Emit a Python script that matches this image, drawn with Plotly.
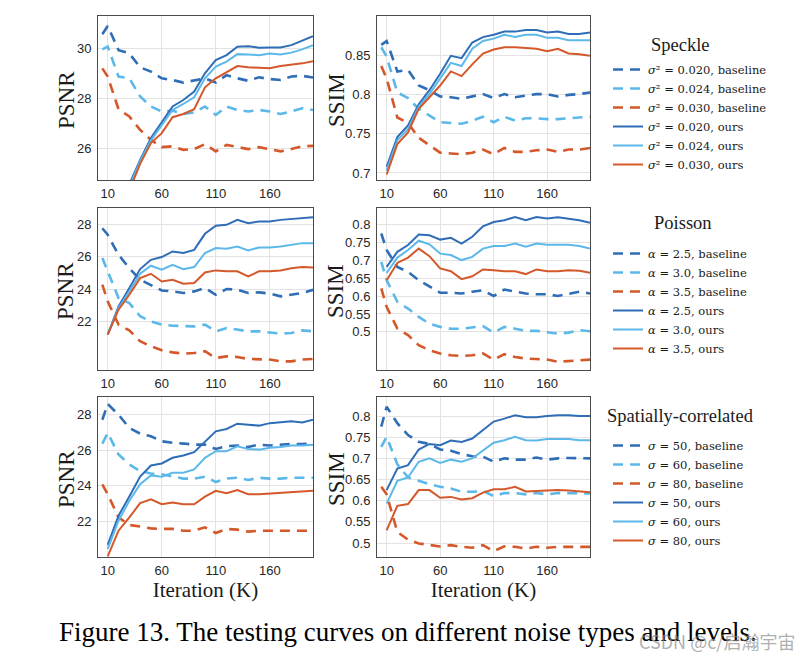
import plotly.graph_objects as go

# ---------------- data ----------------
x_base = [5, 10, 20, 30, 40, 50, 60, 70, 80, 90, 100, 110, 120, 130, 140, 150, 160, 170, 180, 190, 200]
x_ours = [10, 20, 30, 40, 50, 60, 70, 80, 90, 100, 110, 120, 130, 140, 150, 160, 170, 180, 190, 200]
x_tickvals = [10, 60, 110, 160]

# Speckle
speckle_psnr_base1 = [30.57, 30.9, 29.93, 29.8, 29.24, 29.07, 28.8, 28.73, 28.63, 28.7, 28.8, 28.63, 28.93, 28.8, 28.7, 28.84, 28.77, 28.73, 28.87, 28.9, 28.83]
speckle_psnr_base2 = [29.96, 30.07, 28.87, 28.8, 28.07, 27.67, 27.47, 27.5, 27.37, 27.43, 27.67, 27.33, 27.67, 27.53, 27.47, 27.53, 27.47, 27.37, 27.47, 27.6, 27.53]
speckle_psnr_base3 = [29.2, 28.87, 27.56, 27.27, 26.73, 26.33, 26.04, 26.07, 25.93, 25.96, 26.16, 25.87, 26.13, 26.04, 25.96, 26.04, 25.96, 25.87, 25.96, 26.07, 26.09]
speckle_psnr_ours1 = [21.8, 23.3, 24.55, 25.53, 26.4, 27.03, 27.67, 27.93, 28.27, 29.0, 29.53, 29.73, 30.07, 30.09, 30.03, 30.04, 30.04, 30.13, 30.31, 30.49]
speckle_psnr_ours2 = [21.6, 23.2, 24.45, 25.47, 26.31, 26.93, 27.53, 27.77, 28.04, 28.8, 29.27, 29.47, 29.77, 29.76, 29.73, 29.8, 29.76, 29.83, 29.96, 30.13]
speckle_psnr_ours3 = [21.2, 23.0, 24.3, 25.37, 26.2, 26.6, 27.24, 27.37, 27.56, 28.44, 28.8, 29.03, 29.29, 29.24, 29.23, 29.2, 29.29, 29.33, 29.4, 29.49]

speckle_ssim_base1 = [0.864, 0.869, 0.830, 0.832, 0.812, 0.806, 0.798, 0.797, 0.795, 0.798, 0.801, 0.796, 0.801, 0.797, 0.799, 0.801, 0.801, 0.798, 0.800, 0.801, 0.803]
speckle_ssim_base2 = [0.861, 0.849, 0.803, 0.796, 0.782, 0.773, 0.765, 0.764, 0.763, 0.767, 0.772, 0.765, 0.772, 0.767, 0.770, 0.770, 0.769, 0.769, 0.770, 0.771, 0.772]
speckle_ssim_base3 = [0.837, 0.821, 0.771, 0.764, 0.745, 0.735, 0.726, 0.725, 0.724, 0.726, 0.730, 0.724, 0.732, 0.727, 0.727, 0.729, 0.730, 0.727, 0.730, 0.730, 0.732]
speckle_ssim_ours1 = [0.708, 0.746, 0.761, 0.788, 0.806, 0.827, 0.850, 0.847, 0.867, 0.874, 0.877, 0.881, 0.881, 0.883, 0.883, 0.880, 0.881, 0.878, 0.878, 0.880]
speckle_ssim_ours2 = [0.703, 0.742, 0.756, 0.785, 0.801, 0.821, 0.841, 0.837, 0.859, 0.869, 0.872, 0.877, 0.874, 0.877, 0.877, 0.873, 0.873, 0.870, 0.870, 0.870]
speckle_ssim_ours3 = [0.698, 0.737, 0.752, 0.782, 0.797, 0.812, 0.830, 0.824, 0.839, 0.853, 0.858, 0.861, 0.861, 0.860, 0.859, 0.856, 0.859, 0.853, 0.852, 0.850]

# Poisson
poisson_psnr_base1 = [27.79, 27.38, 26.13, 25.3, 24.58, 24.27, 23.91, 23.85, 23.75, 23.85, 24.06, 23.64, 24.0, 23.95, 23.75, 23.79, 23.71, 23.54, 23.64, 23.75, 23.95]
poisson_psnr_base2 = [25.93, 25.1, 23.44, 23.12, 22.3, 21.98, 21.78, 21.71, 21.67, 21.67, 21.78, 21.36, 21.57, 21.46, 21.36, 21.36, 21.3, 21.22, 21.26, 21.42, 21.36]
poisson_psnr_base3 = [24.27, 23.23, 21.78, 21.42, 20.74, 20.43, 20.18, 20.05, 19.97, 20.01, 20.12, 19.7, 19.8, 19.76, 19.64, 19.64, 19.6, 19.49, 19.49, 19.6, 19.64]
poisson_psnr_ours1 = [21.15, 22.92, 24.06, 25.24, 25.82, 25.99, 26.34, 26.24, 26.44, 27.44, 27.94, 28.0, 28.31, 28.1, 28.21, 28.21, 28.31, 28.37, 28.46, 28.48]
poisson_psnr_ours2 = [21.15, 22.81, 23.85, 24.95, 25.45, 25.2, 25.51, 25.24, 25.37, 26.24, 26.55, 26.51, 26.65, 26.4, 26.59, 26.59, 26.65, 26.76, 26.86, 26.86]
poisson_psnr_ours3 = [21.15, 22.71, 23.64, 24.68, 24.95, 24.47, 24.58, 24.33, 24.37, 25.03, 25.16, 25.1, 25.1, 24.78, 25.1, 25.1, 25.16, 25.3, 25.37, 25.34]

poisson_ssim_base1 = [0.774, 0.728, 0.681, 0.667, 0.644, 0.627, 0.609, 0.609, 0.607, 0.612, 0.616, 0.600, 0.618, 0.612, 0.607, 0.605, 0.605, 0.600, 0.605, 0.612, 0.607]
poisson_ssim_base2 = [0.695, 0.644, 0.584, 0.565, 0.542, 0.523, 0.514, 0.509, 0.509, 0.512, 0.516, 0.498, 0.514, 0.509, 0.503, 0.503, 0.500, 0.495, 0.498, 0.505, 0.502]
poisson_ssim_base3 = [0.621, 0.570, 0.509, 0.491, 0.463, 0.449, 0.440, 0.435, 0.433, 0.435, 0.440, 0.423, 0.438, 0.430, 0.426, 0.424, 0.423, 0.417, 0.419, 0.423, 0.423]
poisson_ssim_ours1 = [0.681, 0.723, 0.742, 0.771, 0.769, 0.757, 0.762, 0.746, 0.765, 0.794, 0.806, 0.811, 0.820, 0.811, 0.820, 0.816, 0.819, 0.815, 0.811, 0.804]
poisson_ssim_ours2 = [0.664, 0.707, 0.728, 0.754, 0.744, 0.718, 0.714, 0.700, 0.709, 0.732, 0.739, 0.739, 0.746, 0.737, 0.746, 0.743, 0.743, 0.743, 0.739, 0.732]
poisson_ssim_ours3 = [0.644, 0.692, 0.707, 0.732, 0.711, 0.677, 0.669, 0.647, 0.655, 0.674, 0.672, 0.669, 0.669, 0.661, 0.674, 0.669, 0.669, 0.672, 0.670, 0.665]

# Spatially-correlated
spatial_psnr_base1 = [27.72, 28.61, 28.0, 27.26, 26.94, 26.79, 26.51, 26.42, 26.38, 26.32, 26.32, 26.08, 26.23, 26.27, 26.19, 26.32, 26.27, 26.32, 26.36, 26.36, 26.38]
spatial_psnr_base2 = [26.38, 26.98, 25.77, 25.21, 24.83, 24.7, 24.65, 24.52, 24.41, 24.41, 24.52, 24.22, 24.41, 24.46, 24.33, 24.46, 24.41, 24.41, 24.46, 24.46, 24.46]
spatial_psnr_base3 = [24.09, 23.53, 22.23, 21.8, 21.72, 21.61, 21.58, 21.58, 21.48, 21.48, 21.67, 21.35, 21.58, 21.54, 21.43, 21.48, 21.48, 21.48, 21.48, 21.48, 21.48]
spatial_psnr_ours1 = [20.68, 22.32, 23.4, 24.52, 25.15, 25.26, 25.58, 25.71, 25.9, 26.51, 27.07, 27.2, 27.5, 27.44, 27.39, 27.53, 27.57, 27.63, 27.57, 27.72]
spatial_psnr_ours2 = [20.46, 22.04, 23.16, 24.09, 24.59, 24.52, 24.74, 24.74, 24.93, 25.58, 25.95, 25.95, 26.23, 26.08, 26.04, 26.14, 26.19, 26.27, 26.27, 26.32]
spatial_psnr_ours3 = [20.03, 21.48, 22.23, 23.03, 23.25, 22.97, 23.07, 22.97, 22.97, 23.4, 23.72, 23.59, 23.77, 23.53, 23.53, 23.57, 23.62, 23.66, 23.66, 23.72]

spatial_ssim_base1 = [0.775, 0.822, 0.783, 0.755, 0.739, 0.734, 0.721, 0.718, 0.710, 0.705, 0.704, 0.692, 0.700, 0.697, 0.697, 0.702, 0.697, 0.700, 0.701, 0.701, 0.700]
spatial_ssim_base2 = [0.727, 0.751, 0.686, 0.655, 0.647, 0.639, 0.633, 0.629, 0.621, 0.621, 0.623, 0.611, 0.618, 0.618, 0.615, 0.618, 0.615, 0.618, 0.618, 0.618, 0.617]
spatial_ssim_base3 = [0.633, 0.615, 0.526, 0.508, 0.499, 0.495, 0.492, 0.495, 0.491, 0.489, 0.495, 0.481, 0.492, 0.491, 0.487, 0.491, 0.489, 0.491, 0.491, 0.491, 0.491]
spatial_ssim_ours1 = [0.625, 0.676, 0.684, 0.721, 0.734, 0.731, 0.742, 0.739, 0.747, 0.768, 0.787, 0.794, 0.802, 0.797, 0.797, 0.800, 0.802, 0.802, 0.800, 0.800]
spatial_ssim_ours2 = [0.593, 0.647, 0.655, 0.692, 0.700, 0.689, 0.697, 0.692, 0.700, 0.718, 0.737, 0.743, 0.751, 0.743, 0.742, 0.746, 0.746, 0.746, 0.743, 0.743]
spatial_ssim_ours3 = [0.530, 0.588, 0.592, 0.625, 0.625, 0.607, 0.609, 0.603, 0.606, 0.619, 0.627, 0.627, 0.633, 0.622, 0.623, 0.624, 0.625, 0.624, 0.622, 0.620]

speckle_labels = ["<i>σ</i>² = 0.020", "<i>σ</i>² = 0.024", "<i>σ</i>² = 0.030"]
poisson_labels = ["<i>α</i> = 2.5", "<i>α</i> = 3.0", "<i>α</i> = 3.5"]
spatial_labels = ["<i>σ</i> = 50", "<i>σ</i> = 60", "<i>σ</i> = 80"]
legend_titles = ["Speckle", "Poisson", "Spatially-correlated"]
y_titles = ["PSNR", "SSIM"]

psnr_ticks = [[26, 28, 30], [22, 24, 26, 28], [22, 24, 26, 28]]
ssim_ticks = [[0.7, 0.75, 0.8, 0.85], [0.5, 0.55, 0.6, 0.65, 0.7, 0.75, 0.8], [0.5, 0.55, 0.6, 0.65, 0.7, 0.75, 0.8]]
psnr_ranges = [[24.72, 31.3], [18.95, 29.05], [20.0, 29.0]]
ssim_ranges = [[0.691, 0.901], [0.394, 0.845], [0.467, 0.845]]

# ---------------- style ----------------
colors = ["#2F6DB6", "#5DB8EA", "#D4582A"]
SERIF = "Liberation Serif"
LEGSERIF = "DejaVu Serif"
SANS = "Liberation Sans"
W, H = 810, 660
OFF = 8  # page body margin


def px_x(p):
    return (p - OFF) / W


def px_y(p):
    return 1 - (p - OFF) / H


col_px = [(98, 313), (377, 590)]
row_px = [(16, 180), (208, 370), (397, 557)]
ytitle_x_px = [66, 336]

rows = [
    (speckle_labels, [speckle_psnr_base1, speckle_psnr_base2, speckle_psnr_base3], [speckle_psnr_ours1, speckle_psnr_ours2, speckle_psnr_ours3],
     [speckle_ssim_base1, speckle_ssim_base2, speckle_ssim_base3], [speckle_ssim_ours1, speckle_ssim_ours2, speckle_ssim_ours3]),
    (poisson_labels, [poisson_psnr_base1, poisson_psnr_base2, poisson_psnr_base3], [poisson_psnr_ours1, poisson_psnr_ours2, poisson_psnr_ours3],
     [poisson_ssim_base1, poisson_ssim_base2, poisson_ssim_base3], [poisson_ssim_ours1, poisson_ssim_ours2, poisson_ssim_ours3]),
    (spatial_labels, [spatial_psnr_base1, spatial_psnr_base2, spatial_psnr_base3], [spatial_psnr_ours1, spatial_psnr_ours2, spatial_psnr_ours3],
     [spatial_ssim_base1, spatial_ssim_base2, spatial_ssim_base3], [spatial_ssim_ours1, spatial_ssim_ours2, spatial_ssim_ours3]),
]

fig = go.Figure()
layout = {}
legend_names = ["legend", "legend2", "legend3"]
legend_top_px = [55, 239, 431]
legend_title_px = [(680, 45), (683, 223), (680, 416)]

annotations = []
for r, (labels, pb, po, sb, so) in enumerate(rows):
    for c in range(2):
        n = r * 2 + c + 1
        xa = "x" if n == 1 else f"x{n}"
        ya = "y" if n == 1 else f"y{n}"
        base = pb if c == 0 else sb
        ours = po if c == 0 else so
        show = (c == 0)
        for i in range(3):
            fig.add_trace(go.Scatter(
                x=x_base, y=base[i], mode="lines", xaxis=xa, yaxis=ya,
                line=dict(color=colors[i], width=2.6, dash="10px,7px"),
                name=labels[i] + ", baseline", legend=legend_names[r], showlegend=show))
        for i in range(3):
            fig.add_trace(go.Scatter(
                x=x_ours, y=ours[i], mode="lines", xaxis=xa, yaxis=ya,
                line=dict(color=colors[i], width=2.0),
                name=labels[i] + ", ours", legend=legend_names[r], showlegend=show))
        x0, x1 = col_px[c]
        y0, y1 = row_px[r]
        key_x = "xaxis" if n == 1 else f"xaxis{n}"
        key_y = "yaxis" if n == 1 else f"yaxis{n}"
        xaxis = dict(
            domain=[px_x(x0), px_x(x1)], anchor=ya, range=[1, 200],
            tickvals=x_tickvals, showgrid=True, gridcolor="#e3e3e3", gridwidth=1,
            showline=True, mirror=True, linecolor="#4a4a4a", linewidth=1,
            ticks="", zeroline=False, ticklabelstandoff=1,
            tickfont=dict(family=SANS, size=13, color="#262626"),
        )
        if r == 2:
            xaxis["title"] = dict(text="Iteration (K)", font=dict(family=SERIF, size=21, color="#1a1a1a"), standoff=4)
        layout[key_x] = xaxis
        layout[key_y] = dict(
            domain=[px_y(y1), px_y(y0)], anchor=xa,
            range=(psnr_ranges if c == 0 else ssim_ranges)[r],
            tickvals=(psnr_ticks if c == 0 else ssim_ticks)[r],
            showgrid=True, gridcolor="#e3e3e3", gridwidth=1,
            showline=True, mirror=True, linecolor="#4a4a4a", linewidth=1,
            ticks="", zeroline=False, ticklabelstandoff=3,
            tickfont=dict(family=SANS, size=13, color="#262626"),
        )
        annotations.append(dict(text=y_titles[c], x=px_x(ytitle_x_px[c]), y=px_y((y0 + y1) / 2 + 2),
                                xref="paper", yref="paper", xanchor="center", yanchor="middle",
                                textangle=-90, showarrow=False,
                                font=dict(family=SERIF, size=23, color="#1a1a1a")))
    layout[legend_names[r]] = dict(
        x=px_x(608), y=px_y(legend_top_px[r]), xanchor="left", yanchor="top",
        bgcolor="rgba(0,0,0,0)", borderwidth=0,
        font=dict(family=LEGSERIF, size=11.5, color="#1a1a1a"),
        tracegroupgap=0, itemwidth=30,
    )
    tx, ty = legend_title_px[r]
    annotations.append(dict(text=legend_titles[r], x=px_x(tx), y=px_y(ty), xref="paper", yref="paper",
                            xanchor="center", yanchor="middle", showarrow=False,
                            font=dict(family=SERIF, size=18.5, color="#1a1a1a")))

annotations.append(dict(text="Figure 13. The testing curves on different noise types and levels.",
                        x=px_x(57), y=px_y(632), xref="paper", yref="paper", xanchor="left", yanchor="middle",
                        showarrow=False, font=dict(family=SERIF, size=27, color="black")))
annotations.append(dict(text="CSDN @c/启瀚宇宙",
                        x=px_x(797), y=px_y(641), xref="paper", yref="paper", xanchor="right", yanchor="middle",
                        showarrow=False, font=dict(family="Noto Sans CJK SC", size=18, color="rgba(140,140,140,0.7)")))

fig.update_layout(**layout)
fig.update_layout(
    width=W, height=H, margin=dict(l=0, r=0, t=0, b=0),
    paper_bgcolor="white", plot_bgcolor="white",
    annotations=annotations,
)

fig.write_html("out.html")
